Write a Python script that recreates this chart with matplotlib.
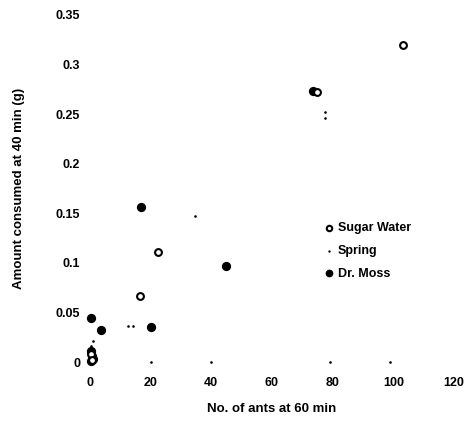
import matplotlib
matplotlib.use('Agg')
import matplotlib.pyplot as plt

plt.rcParams['font.family'] = ['Liberation Sans', 'DejaVu Sans']

# Sugar Water
sw_x = [103.3, 75.0, 22.3, 16.4, 0.3, 0.6]
sw_y = [0.320, 0.272, 0.111, 0.067, 0.008, 0.002]
# Spring
sp_x = [77.5, 77.5, 12.5, 14.2, 34.8, 1.0, 0.3, 20.0, 40.0, 79.0, 99.0]
sp_y = [0.252, 0.246, 0.036, 0.036, 0.147, 0.021, 0.016, 0.0, 0.0, 0.0, 0.0]
# Dr. Moss
dm_x = [17.0, 45.0, 20.3, 0.3, 3.6, 73.5, 0.5, 0.8, 0.4, 1.0]
dm_y = [0.156, 0.097, 0.035, 0.044, 0.032, 0.273, 0.011, 0.006, 0.001, 0.003]

xticks = [0, 20, 40, 60, 80, 100, 120]
yticks = [0, 0.05, 0.1, 0.15, 0.2, 0.25, 0.3, 0.35]
ylabels = ['0', '0.05', '0.1', '0.15', '0.2', '0.25', '0.3', '0.35']

fig = plt.figure(figsize=(4.68, 4.25), dpi=100)
ax = fig.add_axes([0.192, 0.148, 0.778, 0.817])

ax.scatter(sw_x, sw_y, s=24, facecolors='white', edgecolors='black',
           linewidths=1.5, label='Sugar Water', clip_on=False, zorder=3)
ax.scatter(sp_x, sp_y, s=3, color='black', marker='.', label='Spring',
           clip_on=False, zorder=3)
ax.scatter(dm_x, dm_y, s=32, color='black', marker='o', label='Dr. Moss',
           clip_on=False, zorder=2)

ax.set_xlim(0, 120)
ax.set_ylim(0, 0.35)
ax.set_xticks(xticks)
ax.set_yticks(yticks)
ax.set_yticklabels(ylabels)
for s in ax.spines.values():
    s.set_visible(False)
ax.tick_params(axis='x', length=0, labelsize=9, pad=11)
ax.tick_params(axis='y', length=0, labelsize=9, pad=7)
for t in ax.get_xticklabels() + ax.get_yticklabels():
    t.set_fontweight('bold')

ax.set_xlabel('No. of ants at 60 min', fontsize=9.5, fontweight='bold', labelpad=10)
ax.set_ylabel('Amount consumed at 40 min (g)', fontsize=9.5, fontweight='bold',
              labelpad=22)

leg = ax.legend(loc='center left', bbox_to_anchor=(0.61, 0.32), frameon=False,
                fontsize=9, handletextpad=0.15, handlelength=1.0,
                labelspacing=0.85, markerscale=0.8)
for t in leg.get_texts():
    t.set_fontweight('bold')

fig.savefig('out.png', dpi=100)
